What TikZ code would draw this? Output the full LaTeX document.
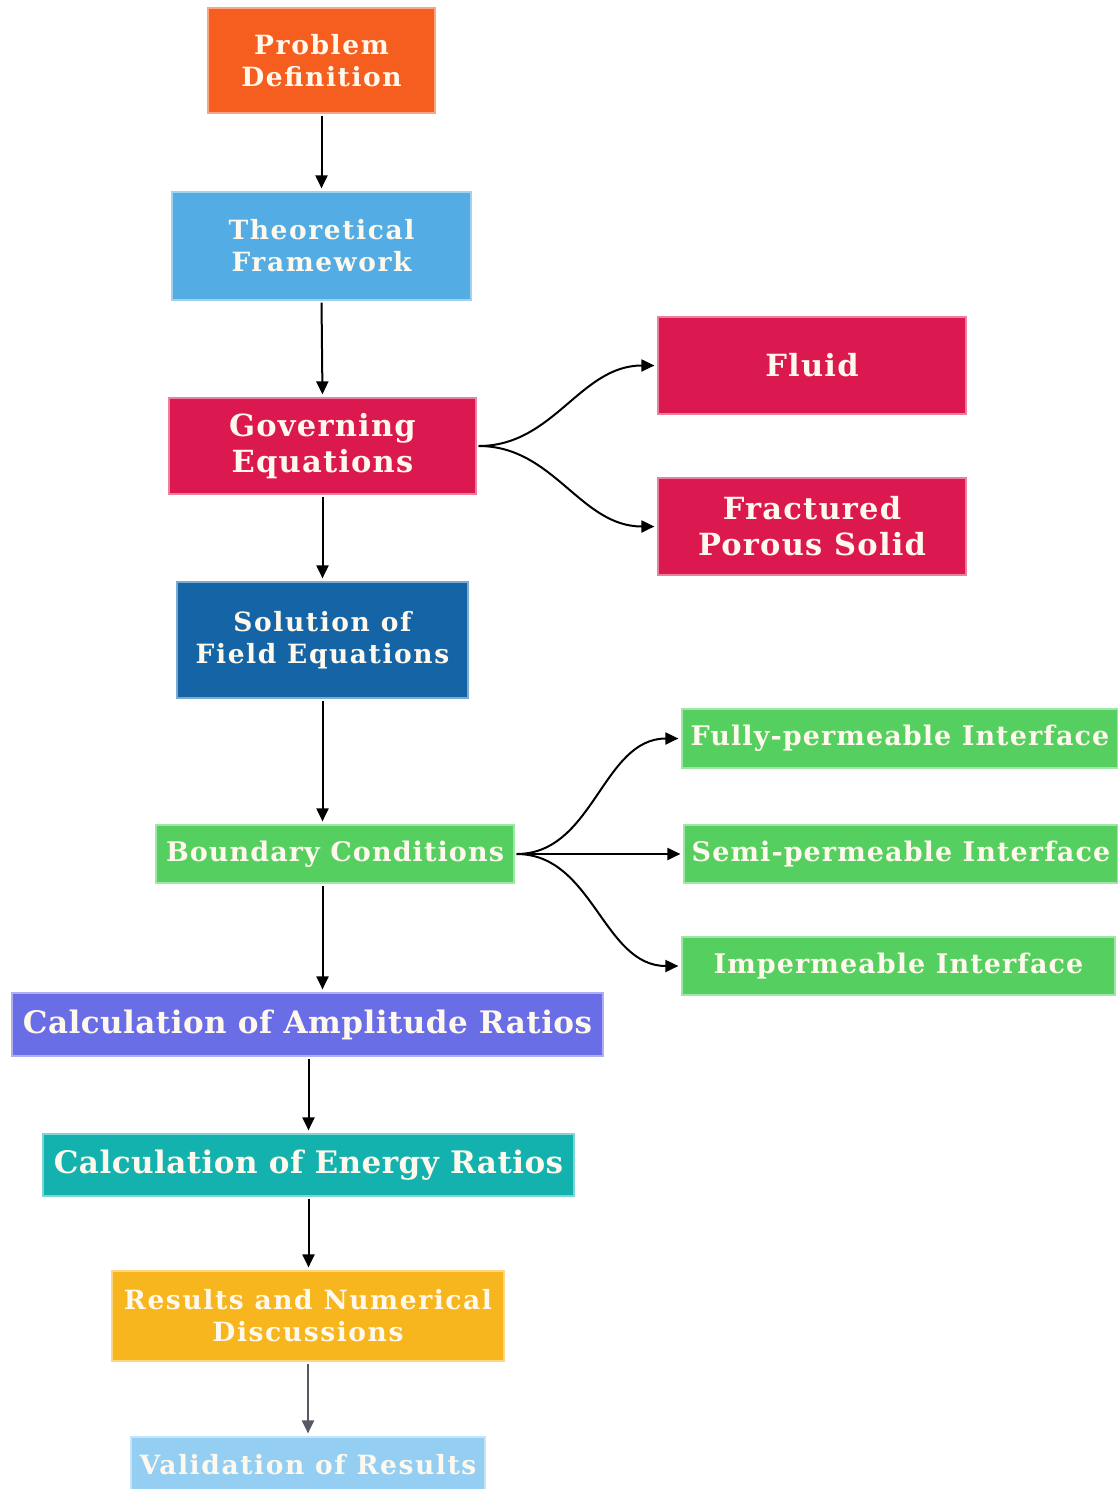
\documentclass[tikz,border=0pt]{standalone}
\usepackage{fontspec}
\setmainfont{DejaVu Serif}
\newfontfamily\fwide{DejaVu Serif}[LetterSpace=6]
\newfontfamily\fmid{DejaVu Serif}[LetterSpace=4]
\newfontfamily\fnarrow{DejaVu Serif}[LetterSpace=1.5]
\usetikzlibrary{arrows.meta,calc}
\definecolor{cOrange}{HTML}{F55E1F}
\definecolor{cSky}{HTML}{53ACE3}
\definecolor{cCrimson}{HTML}{DC1850}
\definecolor{cNavy}{HTML}{1565A6}
\definecolor{cGreen}{HTML}{55CF60}
\definecolor{cViolet}{HTML}{6A6EE6}
\definecolor{cTeal}{HTML}{14B2AF}
\definecolor{cAmber}{HTML}{F7B51E}
\definecolor{cPale}{HTML}{94CFF3}
\definecolor{cText}{HTML}{FFF8EC}
\definecolor{cGrey}{HTML}{585862}
\begin{document}
\begin{tikzpicture}[x=1pt,y=-1pt,
  box/.style={rectangle, inner sep=0pt, align=center, text=cText,
    fill=#1, draw=#1!55!white, line width=1.2pt},
  smalltxt/.style={font=\fwide\bfseries\fontsize{26.5}{32}\selectfont},
  bigtxt/.style={font=\fmid\bfseries\fontsize{30.5}{36}\selectfont},
  linetxt/.style={font=\fmid\bfseries\fontsize{27}{30}\selectfont},
  calctxt/.style={font=\fnarrow\bfseries\fontsize{31}{36}\selectfont},
  arr/.style={line width=2pt, -{Triangle[length=13pt,width=12pt]},
    shorten >=3pt, shorten <=2pt},
  greyarr/.style={arr, draw=cGrey, color=cGrey}
]
\useasboundingbox (0,0) rectangle (1118,1489);
\fill[white] (0,0) rectangle (1118,1489);

\node[box=cOrange, smalltxt, minimum width=227pt, minimum height=105pt] (PD) at (321.5,60.5) {Problem\\Definition};
\node[box=cSky, smalltxt, minimum width=299pt, minimum height=108pt] (TF) at (321.5,246) {Theoretical\\Framework};
\node[box=cCrimson, bigtxt, minimum width=307pt, minimum height=96pt] (GE) at (322.5,446) {Governing\\Equations};
\node[box=cCrimson, bigtxt, minimum width=308pt, minimum height=97pt] (FL) at (812,365.5) {Fluid};
\node[box=cCrimson, bigtxt, minimum width=308pt, minimum height=97pt] (FS) at (812,526.5) {Fractured\\Porous Solid};
\node[box=cNavy, smalltxt, minimum width=291pt, minimum height=116pt] (SF) at (322.5,640) {Solution of\\Field Equations};
\node[box=cGreen, linetxt, minimum width=358pt, minimum height=58pt] (BC) at (335,854) {Boundary Conditions};
\node[box=cGreen, linetxt, minimum width=436pt, minimum height=59pt] (FP) at (900,738.5) {Fully-permeable Interface};
\node[box=cGreen, linetxt, minimum width=434pt, minimum height=58pt] (SP) at (901,854) {Semi-permeable Interface};
\node[box=cGreen, linetxt, minimum width=433pt, minimum height=58pt] (IP) at (898.5,966) {Impermeable Interface};
\node[box=cViolet, calctxt, minimum width=591pt, minimum height=63pt] (CA) at (307.5,1024.5) {Calculation of Amplitude Ratios};
\node[box=cTeal, calctxt, minimum width=531pt, minimum height=62pt] (CE) at (308.5,1165) {Calculation of Energy Ratios};
\node[box=cAmber, smalltxt, minimum width=392pt, minimum height=90pt] (RN) at (308,1316) {Results and Numerical\\Discussions};
\node[box=cPale, smalltxt, minimum width=354pt, minimum height=56pt] (VR) at (308,1465) {Validation of Results};

\draw[arr] (PD.south) -- (TF.north);
\draw[arr] (TF.south) -- (GE.north);
\draw[arr] (GE.south) -- (SF.north);
\draw[arr] (SF.south) -- (SF.south |- BC.north);
\draw[arr] (GE.east) to[out=0,in=180] (FL.west);
\draw[arr] (GE.east) to[out=0,in=180] (FS.west);
\draw[arr] (BC.south -| SF.south) -- (SF.south |- CA.north);
\draw[arr] (BC.east) to[out=0,in=180] (FP.west);
\draw[arr] (BC.east) -- (SP.west);
\draw[arr] (BC.east) to[out=0,in=180] (IP.west);
\draw[arr] (CA.south -| CE.south) -- (CE.north);
\draw[arr] (CE.south) -- (CE.south |- RN.north);
\draw[greyarr] (RN.south) -- (RN.south |- VR.north);
\end{tikzpicture}
\end{document}
